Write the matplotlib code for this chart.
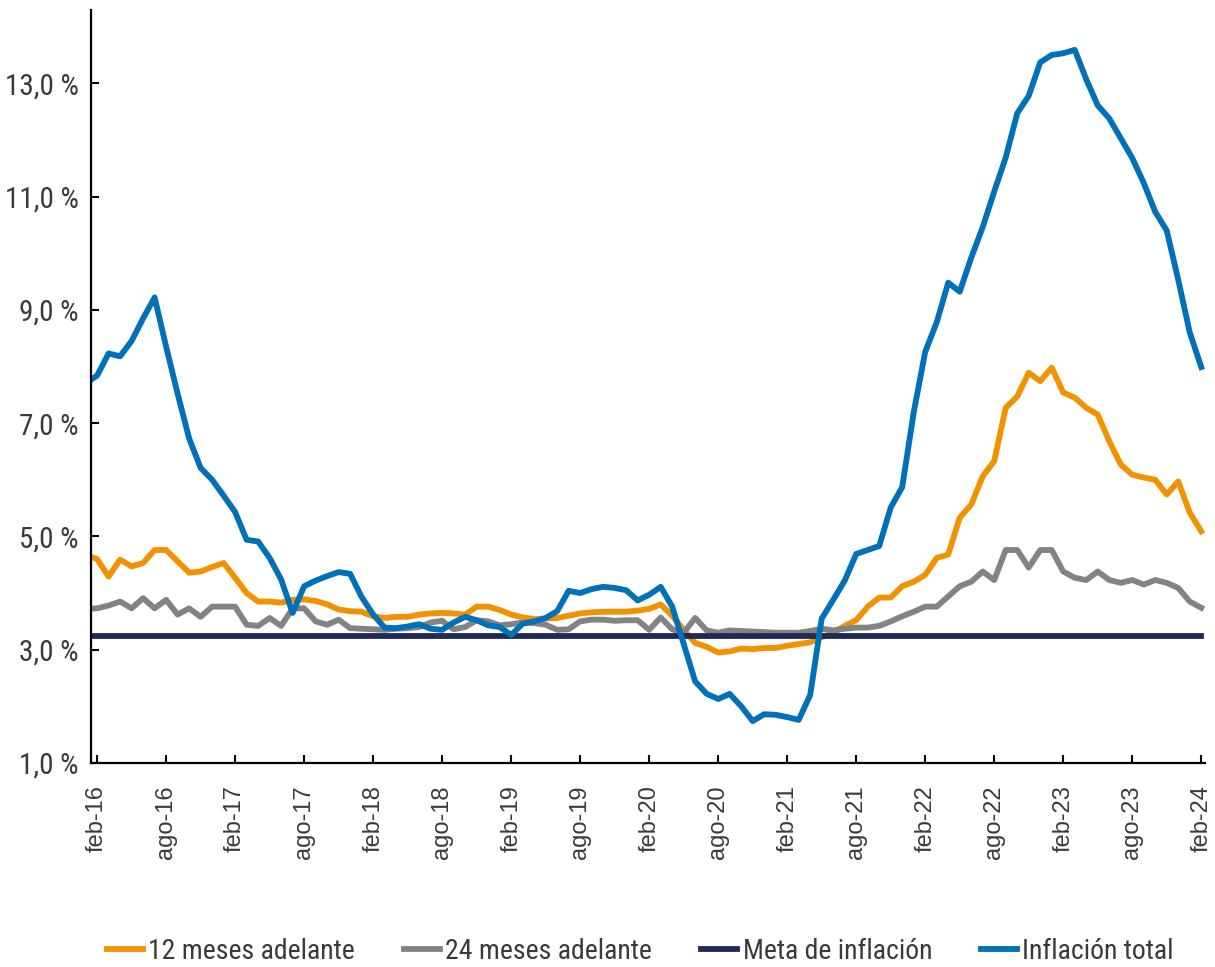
import numpy as np
import matplotlib
matplotlib.use("Agg")
import matplotlib.pyplot as plt
from matplotlib import font_manager

# Monthly data, ene-16 .. feb-24 (first point sits just left of the axis)
inflacion_total = [
    7.70, 7.84, 8.23, 8.18, 8.45, 8.85, 9.22, 8.35, 7.52, 6.73, 6.21, 6.00,
    5.72, 5.43, 4.94, 4.91, 4.62, 4.24, 3.65, 4.12, 4.22, 4.30, 4.37, 4.34,
    3.93, 3.62, 3.39, 3.38, 3.41, 3.45, 3.37, 3.35, 3.48, 3.58, 3.52, 3.43,
    3.40, 3.26, 3.46, 3.50, 3.56, 3.68, 4.04, 4.00, 4.07, 4.11, 4.09, 4.05,
    3.87, 3.97, 4.11, 3.76, 3.10, 2.44, 2.22, 2.13, 2.22, 2.00, 1.74, 1.86,
    1.85, 1.81, 1.76, 2.20, 3.55, 3.88, 4.22, 4.69, 4.76, 4.83, 5.51, 5.87,
    7.19, 8.26, 8.78, 9.48, 9.32, 9.92, 10.46, 11.09, 11.69, 12.47, 12.78, 13.37,
    13.50, 13.53, 13.59, 13.07, 12.61, 12.38, 12.03, 11.68, 11.24, 10.73, 10.40, 9.53,
    8.60, 7.99,
]
esperada_12m = [
    4.67, 4.60, 4.29, 4.59, 4.47, 4.53, 4.76, 4.76, 4.56, 4.36, 4.38, 4.46,
    4.53, 4.27, 4.00, 3.85, 3.85, 3.83, 3.88, 3.89, 3.86, 3.80, 3.71, 3.68,
    3.67, 3.59, 3.56, 3.58, 3.58, 3.62, 3.64, 3.65, 3.64, 3.62, 3.76, 3.76,
    3.70, 3.62, 3.57, 3.54, 3.55, 3.56, 3.60, 3.64, 3.66, 3.67, 3.67, 3.67,
    3.69, 3.72, 3.80, 3.60, 3.35, 3.12, 3.05, 2.95, 2.97, 3.02, 3.01, 3.03,
    3.03, 3.07, 3.10, 3.13, 3.22, 3.30, 3.42, 3.52, 3.76, 3.92, 3.92, 4.12,
    4.20, 4.32, 4.62, 4.68, 5.33, 5.56, 6.06, 6.33, 7.27, 7.47, 7.89, 7.74,
    7.98, 7.54, 7.45, 7.27, 7.15, 6.68, 6.27, 6.09, 6.04, 6.00, 5.74, 5.97,
    5.42, 5.09,
]
esperada_24m = [
    3.72, 3.73, 3.78, 3.85, 3.73, 3.91, 3.73, 3.88, 3.62, 3.73, 3.58, 3.76,
    3.76, 3.76, 3.44, 3.42, 3.56, 3.42, 3.73, 3.73, 3.50, 3.44, 3.53, 3.38,
    3.37, 3.36, 3.35, 3.37, 3.38, 3.40, 3.48, 3.51, 3.36, 3.40, 3.52, 3.50,
    3.43, 3.45, 3.48, 3.47, 3.44, 3.35, 3.36, 3.50, 3.53, 3.53, 3.51, 3.52,
    3.52, 3.35, 3.57, 3.36, 3.30, 3.56, 3.34, 3.30, 3.34, 3.33, 3.32, 3.31,
    3.30, 3.30, 3.30, 3.33, 3.37, 3.34, 3.37, 3.39, 3.39, 3.42, 3.50, 3.59,
    3.67, 3.76, 3.76, 3.94, 4.12, 4.20, 4.38, 4.23, 4.76, 4.76, 4.45, 4.76,
    4.76, 4.38, 4.27, 4.23, 4.38, 4.23, 4.18, 4.23, 4.15, 4.23, 4.18, 4.09,
    3.85, 3.74,
]
meta_inflacion = 3.25

tick_labels = ["feb-16", "ago-16", "feb-17", "ago-17", "feb-18", "ago-18",
               "feb-19", "ago-19", "feb-20", "ago-20", "feb-21", "ago-21",
               "feb-22", "ago-22", "feb-23", "ago-23", "feb-24"]
y_ticks = [1, 3, 5, 7, 9, 11, 13]

C_12M = "#F39200"
C_24M = "#838383"
C_META = "#1F2A57"
C_TOTAL = "#0070B8"
TXT = "#3a3a3a"

# pick a narrow face for the axis/legend text if one is installed
_names = {f.name for f in font_manager.fontManager.ttflist}
if "Roboto Condensed" in _names:
    NARROW, NSIZE = "Roboto Condensed", 21
elif "Liberation Sans Narrow" in _names:
    NARROW, NSIZE = "Liberation Sans Narrow", 21
else:
    NARROW, NSIZE = "Roboto", 17

# x: index 0 = feb-16, first value is ene-16 at -1
x = np.arange(len(inflacion_total)) - 1

fig = plt.figure(figsize=(12.15, 9.67), dpi=100)
ax = fig.add_axes([0.075, 0.211, 0.917, 0.779])

lw = 4.2
ax.plot(x, esperada_12m, color=C_12M, lw=lw, solid_joinstyle="round",
        label="12 meses adelante")
ax.plot(x, esperada_24m, color=C_24M, lw=lw, solid_joinstyle="round",
        label="24 meses adelante")
ax.plot(x, [meta_inflacion] * len(x), color=C_META, lw=lw,
        label="Meta de inflación")
ax.plot(x, inflacion_total, color=C_TOTAL, lw=lw, solid_joinstyle="round",
        label="Inflación total")

ax.set_xlim(-0.52, 96.35)
ax.set_ylim(1, 14.3)

for s in ("top", "right"):
    ax.spines[s].set_visible(False)
for s in ("left", "bottom"):
    ax.spines[s].set_linewidth(1.6)
    ax.spines[s].set_color("black")

ax.set_yticks(y_ticks)
ax.set_yticklabels([f"{v:.1f}".replace(".", ",") + " %" for v in y_ticks],
                   fontsize=NSIZE, family=NARROW, color=TXT)
ax.set_xticks(np.arange(0, 97, 6))
ax.set_xticklabels(tick_labels, rotation=90, fontsize=17,
                   family="Liberation Sans", color=TXT)
ax.tick_params(axis="y", direction="in", length=6, width=1.5, pad=9)
ax.tick_params(axis="x", direction="in", length=6, width=1.5, pad=16)

leg = fig.legend(loc="center", bbox_to_anchor=(0.527, 0.016), ncol=4,
                 frameon=False, handlelength=1.3, handletextpad=0.2,
                 columnspacing=1.75, prop={"family": NARROW, "size": NSIZE - 1})
for t in leg.get_texts():
    t.set_color(TXT)

fig.savefig("out.png", dpi=100, facecolor="white")
